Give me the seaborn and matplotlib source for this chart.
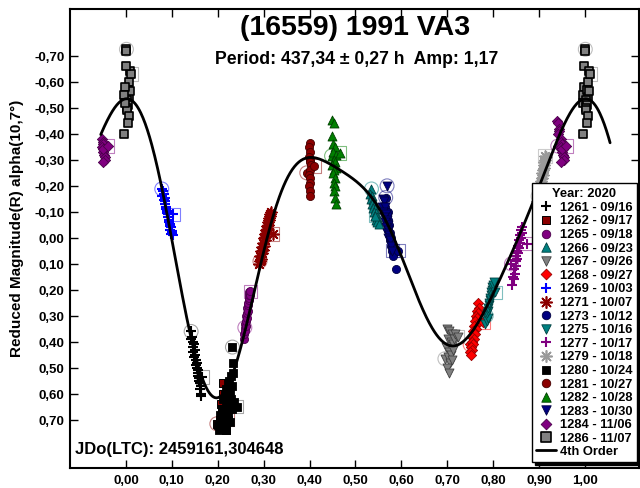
import numpy as np
import pandas as pd
import matplotlib
matplotlib.use("Agg")
import matplotlib.pyplot as plt
import seaborn as sns
from matplotlib.lines import Line2D
from matplotlib.ticker import FixedLocator, FuncFormatter

# ---------------- data: rotational phase and reduced magnitude per session ----------------
sessions = ["1261 - 09/16", "1262 - 09/17", "1265 - 09/18", "1266 - 09/23", "1267 - 09/26",
            "1268 - 09/27", "1269 - 10/03", "1271 - 10/07", "1273 - 10/12", "1275 - 10/16",
            "1277 - 10/17", "1279 - 10/18", "1280 - 10/24", "1281 - 10/27", "1282 - 10/28",
            "1283 - 10/30", "1284 - 11/06", "1286 - 11/07"]

p1261 = [0.142, 0.144, 0.141, 0.146, 0.145, 0.148, 0.147, 0.150, 0.149, 0.151, 0.153, 0.152, 0.155,
         0.154, 0.156, 0.158, 0.157, 0.159, 0.160, 0.162, 0.161, 0.163, 0.164, 0.163, 0.166]
m1261 = [0.36, 0.38, 0.39, 0.40, 0.42, 0.41, 0.44, 0.43, 0.46, 0.45, 0.47, 0.49, 0.48,
         0.50, 0.52, 0.51, 0.53, 0.55, 0.54, 0.56, 0.58, 0.57, 0.60, 0.61, 0.535]

p1262 = [0.198, 0.205, 0.210, 0.215, 0.208, 0.218, 0.212, 0.222, 0.206, 0.216, 0.220, 0.211, 0.224,
         0.214, 0.219, 0.209, 0.222]
m1262 = [0.715, 0.70, 0.68, 0.66, 0.64, 0.62, 0.60, 0.58, 0.73, 0.72, 0.67, 0.56, 0.63,
         0.69, 0.74, 0.66, 0.70]

p1265 = [0.259, 0.257, 0.258, 0.260, 0.259, 0.261, 0.262, 0.261, 0.263, 0.264, 0.263, 0.265, 0.266,
         0.265, 0.267, 0.268, 0.267, 0.269, 0.270, 0.271]
m1265 = [0.345, 0.39, 0.37, 0.36, 0.33, 0.34, 0.32, 0.30, 0.31, 0.29, 0.27, 0.28, 0.26,
         0.25, 0.24, 0.23, 0.22, 0.21, 0.22, 0.205]

p1266 = [0.535, 0.532, 0.537, 0.534, 0.539, 0.536, 0.541, 0.538, 0.543, 0.540, 0.545, 0.542, 0.547,
         0.544, 0.549, 0.546, 0.551, 0.543]
m1266 = [-0.188, -0.17, -0.16, -0.15, -0.145, -0.13, -0.125, -0.115, -0.11, -0.10, -0.095, -0.085, -0.08,
         -0.07, -0.065, -0.06, -0.055, -0.085]

p1267 = [0.695, 0.700, 0.705, 0.710, 0.702, 0.708, 0.698, 0.712, 0.704, 0.715, 0.701, 0.709, 0.718,
         0.706, 0.713, 0.699, 0.711, 0.703, 0.723]
m1267 = [0.465, 0.35, 0.36, 0.37, 0.39, 0.40, 0.42, 0.41, 0.44, 0.39, 0.46, 0.45, 0.37,
         0.48, 0.43, 0.50, 0.47, 0.52, 0.38]

p1268 = [0.750, 0.767, 0.770, 0.765, 0.768, 0.763, 0.766, 0.761, 0.764, 0.759, 0.762, 0.757, 0.760,
         0.755, 0.758, 0.753, 0.756, 0.751, 0.754, 0.749, 0.752, 0.778]
m1268 = [0.41, 0.25, 0.27, 0.28, 0.29, 0.30, 0.31, 0.32, 0.33, 0.34, 0.35, 0.36, 0.37,
         0.38, 0.39, 0.40, 0.41, 0.42, 0.43, 0.44, 0.45, 0.325]

p1269 = [0.078, 0.080, 0.082, 0.079, 0.084, 0.083, 0.086, 0.085, 0.088, 0.087, 0.090, 0.089, 0.092,
         0.091, 0.094, 0.093, 0.096, 0.095, 0.098, 0.097, 0.100, 0.099, 0.102, 0.101, 0.103]
m1269 = [-0.188, -0.18, -0.17, -0.16, -0.155, -0.145, -0.14, -0.13, -0.12, -0.11, -0.105, -0.095, -0.09,
         -0.08, -0.07, -0.06, -0.055, -0.045, -0.04, -0.03, -0.025, -0.015, -0.01, -0.02, -0.09]

p1271 = [0.292, 0.290, 0.294, 0.293, 0.296, 0.295, 0.298, 0.297, 0.300, 0.299, 0.302, 0.301, 0.304,
         0.303, 0.306, 0.305, 0.308, 0.307, 0.310, 0.309, 0.312, 0.311, 0.314, 0.313, 0.316, 0.320]
m1271 = [0.09, 0.10, 0.08, 0.07, 0.06, 0.05, 0.045, 0.035, 0.03, 0.02, 0.01, 0.00, -0.005,
         -0.015, -0.02, -0.03, -0.035, -0.045, -0.05, -0.06, -0.07, -0.075, -0.085, -0.09, -0.10, -0.015]

p1273 = [0.566, 0.565, 0.570, 0.568, 0.572, 0.569, 0.574, 0.571, 0.576, 0.573, 0.578, 0.575, 0.580,
         0.577, 0.582, 0.579, 0.584, 0.581, 0.588, 0.593]
m1273 = [-0.155, -0.12, -0.10, -0.09, -0.07, -0.06, -0.05, -0.03, -0.02, -0.01, 0.00, 0.01, 0.02,
         0.03, 0.04, 0.05, 0.06, 0.07, 0.12, 0.05]

p1275 = [0.785, 0.783, 0.786, 0.788, 0.787, 0.790, 0.789, 0.792, 0.791, 0.794, 0.793, 0.796, 0.795,
         0.798, 0.797, 0.800, 0.802, 0.805]
m1275 = [0.30, 0.33, 0.32, 0.31, 0.29, 0.28, 0.27, 0.26, 0.25, 0.24, 0.23, 0.22, 0.21,
         0.20, 0.19, 0.18, 0.17, 0.21]

p1277 = [0.840, 0.842, 0.845, 0.843, 0.848, 0.846, 0.850, 0.849, 0.852, 0.851, 0.854, 0.853, 0.856,
         0.855, 0.858, 0.857, 0.860, 0.859, 0.862, 0.861, 0.864, 0.873]
m1277 = [0.10, 0.18, 0.16, 0.15, 0.14, 0.12, 0.11, 0.09, 0.08, 0.07, 0.06, 0.05, 0.04,
         0.03, 0.02, 0.01, 0.00, -0.01, -0.02, -0.03, -0.04, 0.023]

p1279 = [0.898, 0.895, 0.897, 0.899, 0.900, 0.902, 0.901, 0.903, 0.905, 0.904, 0.906, 0.908, 0.907,
         0.909, 0.911, 0.910, 0.912, 0.913, 0.915, 0.913]
m1279 = [-0.16, -0.14, -0.15, -0.165, -0.175, -0.18, -0.19, -0.20, -0.21, -0.22, -0.23, -0.24, -0.25,
         -0.26, -0.27, -0.28, -0.29, -0.30, -0.31, -0.315]

p1280 = [0.232, 0.233, 0.234, 0.228, 0.225, 0.230, 0.222, 0.226, 0.219, 0.224, 0.215, 0.221, 0.229,
         0.212, 0.218, 0.227, 0.210, 0.216, 0.231, 0.205, 0.213, 0.223, 0.208, 0.220, 0.200, 0.214,
         0.226, 0.203, 0.217, 0.211, 0.236, 0.241]
m1280 = [0.42, 0.48, 0.52, 0.53, 0.55, 0.57, 0.56, 0.59, 0.58, 0.61, 0.60, 0.63, 0.62,
         0.62, 0.65, 0.64, 0.66, 0.67, 0.66, 0.68, 0.69, 0.68, 0.71, 0.70, 0.72, 0.73,
         0.71, 0.74, 0.74, 0.72, 0.63, 0.65]

p1281 = [0.394, 0.400, 0.398, 0.401, 0.399, 0.402, 0.400, 0.403, 0.401, 0.399, 0.402, 0.400, 0.398,
         0.401, 0.400, 0.410]
m1281 = [-0.25, -0.365, -0.35, -0.33, -0.31, -0.30, -0.29, -0.28, -0.26, -0.24, -0.23, -0.21, -0.20,
         -0.18, -0.16, -0.276]

p1282 = [0.448, 0.450, 0.454, 0.449, 0.452, 0.455, 0.451, 0.457, 0.453, 0.456, 0.450, 0.458, 0.454,
         0.452, 0.455, 0.453, 0.456, 0.454, 0.455, 0.457, 0.466]
m1282 = [-0.315, -0.455, -0.44, -0.39, -0.36, -0.35, -0.33, -0.32, -0.30, -0.29, -0.28, -0.27, -0.26,
         -0.25, -0.23, -0.21, -0.20, -0.18, -0.155, -0.13, -0.326]

p1283 = [0.569, 0.560, 0.562, 0.558, 0.564, 0.561, 0.566, 0.563, 0.568, 0.565, 0.570, 0.567, 0.572,
         0.569, 0.574, 0.571, 0.576, 0.578, 0.580]
m1283 = [-0.20, -0.15, -0.14, -0.12, -0.12, -0.10, -0.09, -0.08, -0.07, -0.06, -0.05, -0.04, -0.03,
         -0.02, -0.01, 0.00, 0.01, 0.03, 0.05]

p1284 = [0.941, 0.940, 0.942, 0.943, 0.944, 0.941, 0.947, 0.949, 0.951, 0.948, 0.953, 0.950, 0.952,
         0.954, 0.955, 0.949, 0.951, 0.960]
m1284 = [-0.353, -0.45, -0.44, -0.42, -0.41, -0.40, -0.38, -0.37, -0.36, -0.35, -0.34, -0.33, -0.32,
         -0.31, -0.30, -0.29, -0.34, -0.353]

p1286 = [0.001, 0.001, 0.999, 0.009, 0.007, 0.998, 0.004, 0.996, 0.006, 0.002, 0.997, 0.005, 0.003,
         0.008, 0.002, 0.006, 0.004, 0.995, 0.012]
m1286 = [-0.725, -0.72, -0.66, -0.64, -0.60, -0.58, -0.57, -0.55, -0.54, -0.53, -0.52, -0.51, -0.50,
         -0.565, -0.49, -0.47, -0.44, -0.40, -0.63]

phases = [p1261, p1262, p1265, p1266, p1267, p1268, p1269, p1271, p1273, p1275,
          p1277, p1279, p1280, p1281, p1282, p1283, p1284, p1286]
mags = [m1261, m1262, m1265, m1266, m1267, m1268, m1269, m1271, m1273, m1275,
        m1277, m1279, m1280, m1281, m1282, m1283, m1284, m1286]

# points on the 4th order Fourier model curve
curve_phase = [0.000, 0.026, 0.050, 0.070, 0.092, 0.118, 0.141, 0.168, 0.190, 0.205, 0.215, 0.230,
               0.255, 0.285, 0.314, 0.357, 0.400, 0.466, 0.516, 0.569, 0.612, 0.640, 0.680, 0.700,
               0.720, 0.750, 0.793, 0.843, 0.873, 0.910, 0.946, 0.989]
curve_mag = [-0.535, -0.505, -0.38, -0.24, -0.07, 0.17, 0.36, 0.52, 0.61, 0.64, 0.64, 0.53,
             0.345, 0.152, -0.015, -0.25, -0.315, -0.265, -0.18, -0.065, 0.12, 0.24, 0.38, 0.43,
             0.43, 0.35, 0.22, 0.05, -0.04, -0.245, -0.43, -0.525]

x_ticks = [0.0, 0.1, 0.2, 0.3, 0.4, 0.5, 0.6, 0.7, 0.8, 0.9, 1.0]
y_ticks = [-0.7, -0.6, -0.5, -0.4, -0.3, -0.2, -0.1, 0.0, 0.1, 0.2, 0.3, 0.4, 0.5, 0.6, 0.7]

title = "(16559) 1991 VA3"
subtitle = "Period: 437,34 \u00b1 0,27 h  Amp: 1,17"
epoch_text = "JDo(LTC): 2459161,304648"
y_label = "Reduced Magnitude(R) alpha(10,7\u00b0)"
legend_title = "Year: 2020"
fit_label = "4th Order"

# ---------------- styles ----------------
WRAP = 0.055
styles = [
    dict(marker="+", color="#000000", s=55, linewidth=1.5),
    dict(marker="s", color="#8B0000", edgecolor="#000000", s=34, linewidth=0.7),
    dict(marker="o", color="#800080", edgecolor="#4a004a", s=34, linewidth=0.6),
    dict(marker="^", color="#008080", edgecolor="#004040", s=42, linewidth=0.6),
    dict(marker="v", color="#808080", edgecolor="#404040", s=42, linewidth=0.6),
    dict(marker="D", color="#FF0000", edgecolor="#990000", s=27, linewidth=0.6),
    dict(marker="+", color="#0000FF", s=55, linewidth=1.5),
    dict(marker=(8, 2, 0), color="#8B0000", s=60, linewidth=1.2),
    dict(marker="o", color="#000080", edgecolor="#000040", s=34, linewidth=0.6),
    dict(marker="v", color="#008080", edgecolor="#004040", s=42, linewidth=0.6),
    dict(marker="+", color="#800080", s=55, linewidth=1.5),
    dict(marker=(8, 2, 0), color="#9a9a9a", s=60, linewidth=1.2),
    dict(marker="s", color="#000000", edgecolor="#000000", s=34, linewidth=0.6),
    dict(marker="o", color="#8B0000", edgecolor="#450000", s=34, linewidth=0.6),
    dict(marker="^", color="#008000", edgecolor="#004000", s=42, linewidth=0.6),
    dict(marker="v", color="#000080", edgecolor="#000040", s=42, linewidth=0.6),
    dict(marker="D", color="#800080", edgecolor="#4a004a", s=27, linewidth=0.6),
    dict(marker="s", color="#808080", edgecolor="#000000", s=40, linewidth=1.2),
]


def wrapped(ph, mg):
    ph = np.asarray(ph, float)
    mg = np.asarray(mg, float)
    hi = ph >= 1 - WRAP
    lo = ph < WRAP
    return (np.concatenate([ph, ph[hi] - 1, ph[lo] + 1]),
            np.concatenate([mg, mg[hi], mg[lo]]))


def fourier_design(ph, order=4):
    ph = np.asarray(ph, float)
    cols = [np.ones_like(ph)]
    for k in range(1, order + 1):
        cols += [np.cos(2 * np.pi * k * ph), np.sin(2 * np.pi * k * ph)]
    return np.column_stack(cols)


# ---------------- figure ----------------
sns.set_theme(style="ticks")
plt.rcParams["font.family"] = ["Liberation Sans", "DejaVu Sans"]
plt.rcParams["font.weight"] = "bold"
for key in ("text.color", "axes.labelcolor", "xtick.color", "ytick.color", "axes.edgecolor"):
    plt.rcParams[key] = "black"

fig = plt.figure(figsize=(6.4, 4.89), dpi=100)
fig.patch.set_facecolor("white")
W, H = 640, 489
ax_l, ax_r, ax_t, ax_b = 70, 639, 10, 469
ax = fig.add_axes([ax_l / W, 1 - ax_b / H, (ax_r - ax_l) / W, (ax_b - ax_t) / H])
ax.set_facecolor("white")

handles, labels = [], []
for name, ph, mg, st in zip(sessions, phases, mags, styles):
    xs, ys = wrapped(ph, mg)
    df = pd.DataFrame({"phase": xs, "mag": ys})
    kw = dict(st)
    color = kw.pop("color")
    sns.scatterplot(data=df, x="phase", y="mag", ax=ax, color=color, zorder=3,
                    legend=False, **kw)
    handles.append(ax.collections[-1])
    labels.append(name)
    # open markers at the first and last point of each session
    fx, fy = wrapped(ph[:1], mg[:1])
    lx, ly = wrapped(ph[-1:], mg[-1:])
    ring = color if color != "#000000" else "#505050"
    ax.scatter(fx, fy, s=100, marker="o", facecolors="none", edgecolors=ring,
               linewidths=0.8, alpha=0.5, zorder=2)
    ax.scatter(lx, ly, s=90, marker="s", facecolors="none", edgecolors=ring,
               linewidths=0.8, alpha=0.5, zorder=2)

# 4th order Fourier model through the curve points
coef, *_ = np.linalg.lstsq(fourier_design(curve_phase), np.asarray(curve_mag), rcond=None)
grid = np.linspace(-WRAP, 1 + WRAP, 700)
model = pd.DataFrame({"phase": grid, "mag": fourier_design(grid) @ coef})
sns.lineplot(data=model, x="phase", y="mag", ax=ax, color="black", linewidth=2.0,
             sort=False, zorder=4, legend=False)
handles.append(Line2D([], [], color="black", linewidth=2.0))
labels.append(fit_label)

# axes
ax.set_xlim(-0.122, 1.118)
ax.set_ylim(0.885, -0.88)
ax.xaxis.set_major_locator(FixedLocator(x_ticks))
ax.yaxis.set_major_locator(FixedLocator(y_ticks))
fmt = FuncFormatter(lambda v, _: f"{round(v, 2) + 0.0:.2f}".replace(".", ","))
ax.xaxis.set_major_formatter(fmt)
ax.yaxis.set_major_formatter(fmt)
ax.tick_params(direction="in", length=6, width=1.0, top=True, right=True,
               labelsize=9.5, pad=4, colors="black", labelcolor="black")
for lab in ax.get_xticklabels() + ax.get_yticklabels():
    lab.set_fontweight("bold")
for sp in ax.spines.values():
    sp.set_visible(True)
    sp.set_linewidth(1.5)
    sp.set_color("black")
ax.set_xlabel("")
ax.set_ylabel("")

fig.text(17 / W, 1 - 228 / H, y_label, rotation=90, ha="center", va="center",
         fontsize=11, fontweight="bold", color="black")
fig.text(355 / W, 1 - 28 / H, title, ha="center", va="center", fontsize=20.5,
         fontweight="bold", color="black")
fig.text(357 / W, 1 - 59 / H, subtitle, ha="center", va="center", fontsize=12.7,
         fontweight="bold", color="black")
fig.text(75 / W, 1 - 450 / H, epoch_text, ha="left", va="center", fontsize=12,
         fontweight="bold", color="black")

leg = ax.legend(handles, labels, title=legend_title, loc="lower right",
                bbox_to_anchor=((637 - ax_l) / (ax_r - ax_l), (ax_b - 463) / (ax_b - ax_t)),
                borderaxespad=0, fontsize=9.3, title_fontsize=9.3, frameon=True, fancybox=False,
                framealpha=1, edgecolor="black", labelspacing=0.12, handlelength=1.5,
                handletextpad=0.3, borderpad=0.35, markerscale=1.05,
                shadow={"color": "black", "alpha": 1.0, "ox": 2, "oy": -2})
leg.get_frame().set_linewidth(1.0)
leg.get_title().set_fontweight("bold")
leg.get_title().set_color("black")
for t in leg.get_texts():
    t.set_fontweight("bold")
    t.set_color("black")
leg.set_zorder(10)

fig.savefig("out.png", dpi=100, facecolor="white")
